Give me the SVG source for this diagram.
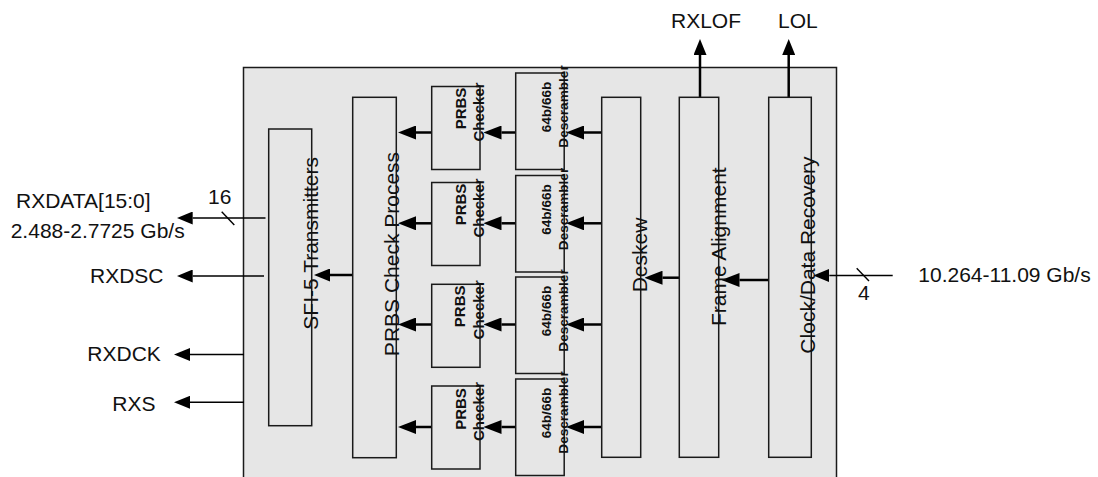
<svg xmlns="http://www.w3.org/2000/svg" width="1098" height="477" viewBox="0 0 1098 477">
  <style>
    .box { fill: #e6e6e6; stroke: #1a1a1a; stroke-width: 1.5; }
    .wire { fill: none; stroke: #000; stroke-width: 2.5; }
    .sig { fill: none; stroke: #000; stroke-width: 1.4; }
    .lbl { font-family: "Liberation Sans", Arial, sans-serif; font-size: 21px; fill: #111; }
    .big { font-family: "Liberation Sans", Arial, sans-serif; font-size: 21px; fill: #111; text-anchor: middle; }
    .sm { font-family: "Liberation Sans", Arial, sans-serif; font-weight: bold; fill: #111; text-anchor: middle; }
    .prbs { font-size: 15px; }
    .desc { font-size: 13.6px; }
  </style>
  <defs>
    <!-- arrowhead drawn beyond the end of the line: base at the line end, tip ahead of it -->
    <marker id="arr" viewBox="0 0 18 14" refX="0" refY="7" markerWidth="18" markerHeight="14" markerUnits="userSpaceOnUse" orient="auto">
      <path d="M0,0 L18,7 L0,14 Z" fill="#000"/>
    </marker>
    <marker id="arr-s" viewBox="0 0 16 13" refX="0" refY="6.5" markerWidth="16" markerHeight="13" markerUnits="userSpaceOnUse" orient="auto">
      <path d="M0,0 L16,6.5 L0,13 Z" fill="#000"/>
    </marker>
  </defs>

  <!-- receiver chip outline -->
  <g id="chip">
    <rect class="box" x="243.5" y="67.5" width="593" height="420"/>
  </g>

  <!-- connectors -->
  <g id="connectors">
    <!-- Deskew -> descramblers -->
    <line class="wire" x1="601.7" y1="132.5" x2="584" y2="132.5" marker-end="url(#arr)"/>
    <line class="wire" x1="601.7" y1="223.3" x2="584" y2="223.3" marker-end="url(#arr)"/>
    <line class="wire" x1="601.7" y1="324.5" x2="584" y2="324.5" marker-end="url(#arr)"/>
    <line class="wire" x1="601.7" y1="427" x2="584" y2="427" marker-end="url(#arr)"/>
    <!-- descramblers -> PRBS checkers -->
    <line class="wire" x1="515.7" y1="132.5" x2="501.5" y2="132.5" marker-end="url(#arr)"/>
    <line class="wire" x1="515.7" y1="223.3" x2="501.5" y2="223.3" marker-end="url(#arr)"/>
    <line class="wire" x1="515.7" y1="324.5" x2="501.5" y2="324.5" marker-end="url(#arr)"/>
    <line class="wire" x1="515.7" y1="427" x2="501.5" y2="427" marker-end="url(#arr)"/>
    <!-- PRBS checkers -> PRBS check process -->
    <line class="wire" x1="431.7" y1="132.5" x2="416" y2="132.5" marker-end="url(#arr)"/>
    <line class="wire" x1="431.7" y1="223.3" x2="416" y2="223.3" marker-end="url(#arr)"/>
    <line class="wire" x1="431.7" y1="324.5" x2="416" y2="324.5" marker-end="url(#arr)"/>
    <line class="wire" x1="431.7" y1="427" x2="416" y2="427" marker-end="url(#arr)"/>
    <!-- PRBS check process -> SFI-5 transmitters -->
    <line class="wire" x1="352.7" y1="275" x2="330" y2="275" marker-end="url(#arr-s)"/>
    <!-- Frame alignment -> Deskew -->
    <line class="wire" x1="679.3" y1="277.7" x2="662.5" y2="277.7" marker-end="url(#arr)"/>
    <!-- CDR -> Frame alignment -->
    <line class="wire" x1="768.7" y1="280" x2="739.5" y2="280" marker-end="url(#arr)"/>
    <!-- serial input -> CDR -->
    <line class="sig" x1="892.7" y1="275.5" x2="829.3" y2="275.5" marker-end="url(#arr-s)"/>
    <line class="sig" x1="856.7" y1="268.3" x2="869" y2="281"/>
    <!-- status outputs -->
    <line class="wire" x1="700" y1="97.3" x2="700" y2="55" marker-end="url(#arr-s)"/>
    <line class="wire" x1="788.7" y1="97.3" x2="788.7" y2="55" marker-end="url(#arr-s)"/>
    <!-- parallel outputs -->
    <line class="sig" x1="265.5" y1="218" x2="192.7" y2="218" marker-end="url(#arr-s)"/>
    <line class="sig" x1="221.7" y1="211.7" x2="234.3" y2="225"/>
    <line class="sig" x1="264" y1="276" x2="192.7" y2="276" marker-end="url(#arr-s)"/>
    <line class="sig" x1="244" y1="354.5" x2="190" y2="354.5" marker-end="url(#arr-s)"/>
    <line class="sig" x1="244" y1="402.3" x2="190" y2="402.3" marker-end="url(#arr-s)"/>
  </g>

  <g id="sfi5-tx">
    <rect class="box" x="268.7" y="129" width="43" height="296.7"/>
    <text class="big" x="318" y="243.3" transform="rotate(-90 318 243.3)">SFI-5 Transmitters</text>
  </g>

  <g id="prbs-check-process">
    <rect class="box" x="352.7" y="97.3" width="43.6" height="360.4"/>
    <text class="big" x="398.5" y="254" transform="rotate(-90 398.5 254)">PRBS Check Process</text>
  </g>

  <g id="prbs-checker-1">
    <rect class="box" x="431.7" y="86.5" width="48.3" height="83"/>
    <text class="sm prbs" x="465.5" y="108.5" transform="rotate(-90 465.5 108.5)">PRBS</text>
    <text class="sm prbs" x="484" y="112" transform="rotate(-90 484 112)">Checker</text>
  </g>
  <g id="prbs-checker-2">
    <rect class="box" x="431.7" y="182.5" width="48.3" height="83"/>
    <text class="sm prbs" x="465.5" y="204.5" transform="rotate(-90 465.5 204.5)">PRBS</text>
    <text class="sm prbs" x="484" y="208" transform="rotate(-90 484 208)">Checker</text>
  </g>
  <g id="prbs-checker-3">
    <rect class="box" x="431.7" y="284.3" width="48.3" height="83"/>
    <text class="sm prbs" x="465.5" y="306.3" transform="rotate(-90 465.5 306.3)">PRBS</text>
    <text class="sm prbs" x="484" y="309.8" transform="rotate(-90 484 309.8)">Checker</text>
  </g>
  <g id="prbs-checker-4">
    <rect class="box" x="431.7" y="386" width="48.3" height="83"/>
    <text class="sm prbs" x="465.5" y="409" transform="rotate(-90 465.5 409)">PRBS</text>
    <text class="sm prbs" x="484" y="411.5" transform="rotate(-90 484 411.5)">Checker</text>
  </g>

  <g id="descrambler-1">
    <rect class="box" x="515.7" y="73" width="48.5" height="96.5"/>
    <text class="sm desc" x="550.5" y="107" transform="rotate(-90 550.5 107)">64b/66b</text>
    <text class="sm desc" x="568" y="106.5" transform="rotate(-90 568 106.5)">Descrambler</text>
  </g>
  <g id="descrambler-2">
    <rect class="box" x="515.7" y="175.5" width="48.5" height="96.5"/>
    <text class="sm desc" x="550.5" y="209.5" transform="rotate(-90 550.5 209.5)">64b/66b</text>
    <text class="sm desc" x="568" y="209" transform="rotate(-90 568 209)">Descrambler</text>
  </g>
  <g id="descrambler-3">
    <rect class="box" x="515.7" y="277" width="48.5" height="96.5"/>
    <text class="sm desc" x="550.5" y="311" transform="rotate(-90 550.5 311)">64b/66b</text>
    <text class="sm desc" x="568" y="310.5" transform="rotate(-90 568 310.5)">Descrambler</text>
  </g>
  <g id="descrambler-4">
    <rect class="box" x="515.7" y="379" width="48.5" height="96.5"/>
    <text class="sm desc" x="550.5" y="413" transform="rotate(-90 550.5 413)">64b/66b</text>
    <text class="sm desc" x="568" y="412.5" transform="rotate(-90 568 412.5)">Descrambler</text>
  </g>

  <g id="deskew">
    <rect class="box" x="601.7" y="97.3" width="39" height="360"/>
    <text class="big" x="646.5" y="255" transform="rotate(-90 646.5 255)">Deskew</text>
  </g>

  <g id="frame-alignment">
    <rect class="box" x="679.3" y="97.3" width="39.4" height="360"/>
    <text class="big" x="726" y="246.7" transform="rotate(-90 726 246.7)">Frame Alignment</text>
  </g>

  <g id="clock-data-recovery">
    <rect class="box" x="768.7" y="97.3" width="42.6" height="360"/>
    <text class="big" x="814.5" y="255" transform="rotate(-90 814.5 255)">Clock/Data Recovery</text>
  </g>

  <!-- pin labels -->
  <g id="labels">
    <text class="lbl" x="671" y="28">RXLOF</text>
    <text class="lbl" x="778" y="28">LOL</text>
    <text class="lbl" x="918.3" y="281.7">10.264-11.09 Gb/s</text>
    <text class="lbl" x="858" y="300">4</text>
    <text class="lbl" x="16" y="207.7">RXDATA[15:0]</text>
    <text class="lbl" x="10.7" y="238.3">2.488-2.7725 Gb/s</text>
    <text class="lbl" x="208" y="204.3">16</text>
    <text class="lbl" x="90" y="282.7">RXDSC</text>
    <text class="lbl" x="87.3" y="360.7">RXDCK</text>
    <text class="lbl" x="112.3" y="410.7">RXS</text>
  </g>
</svg>
